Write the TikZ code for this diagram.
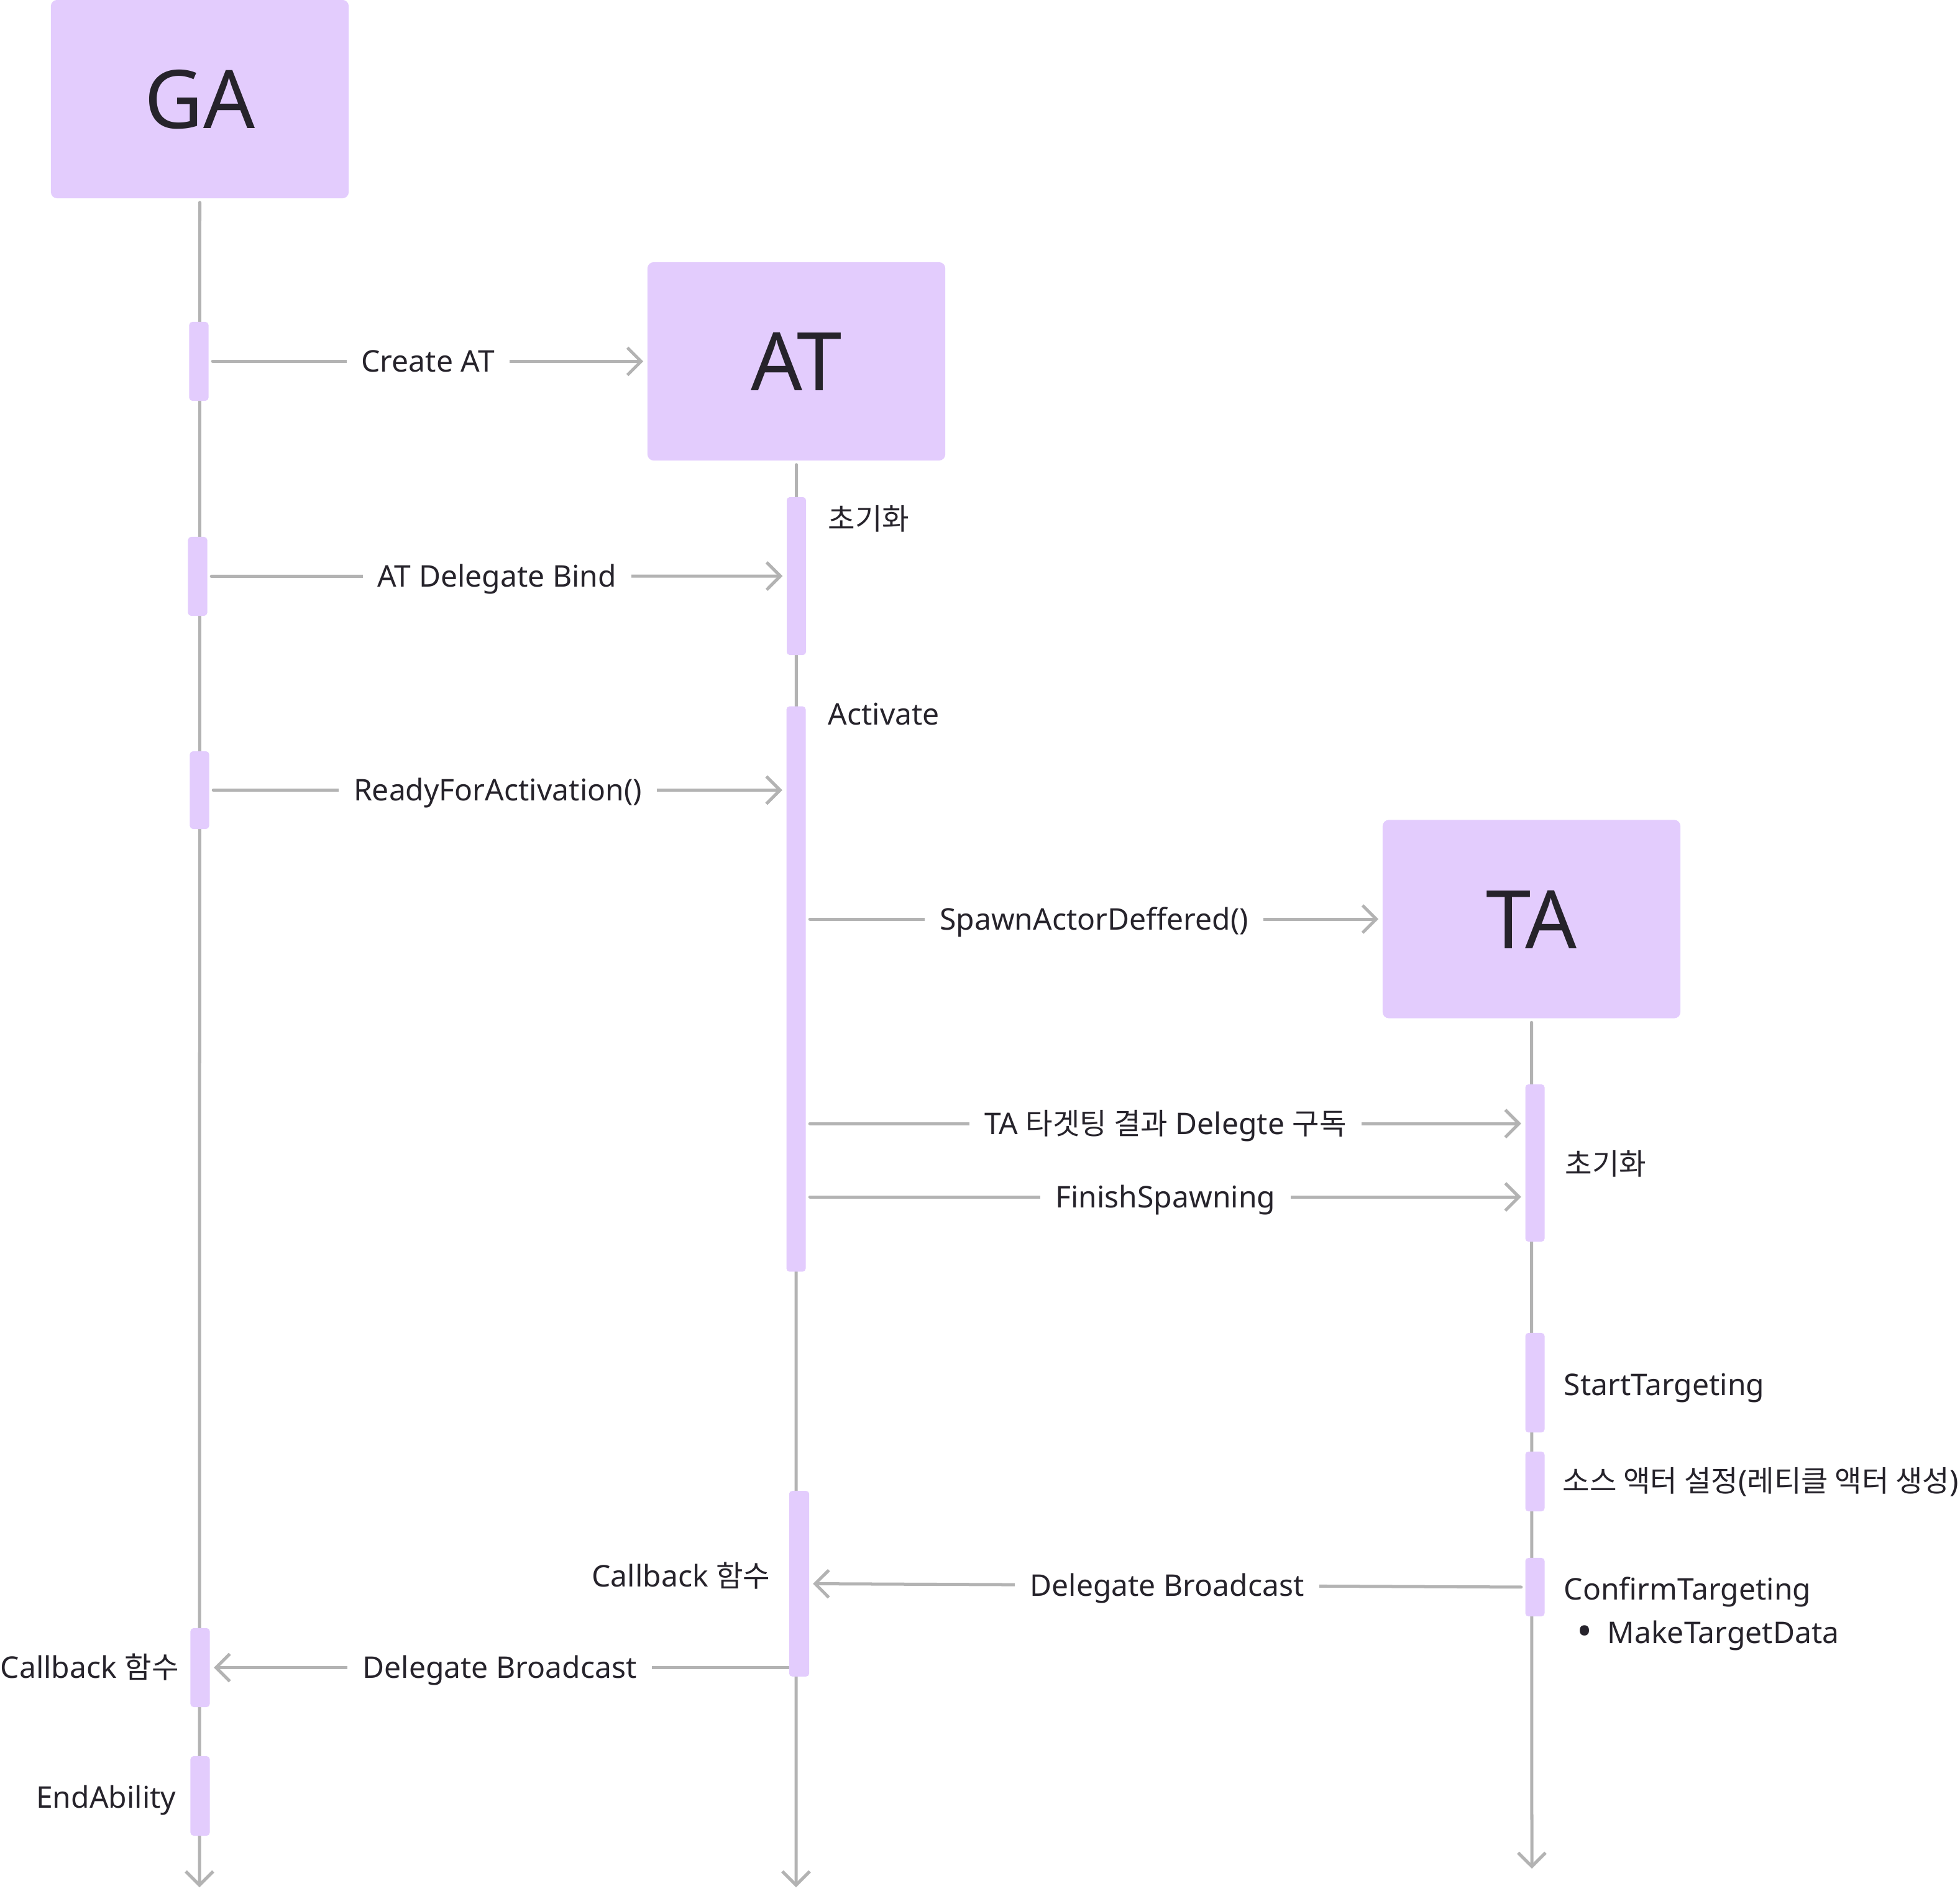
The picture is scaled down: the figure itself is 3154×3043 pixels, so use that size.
\documentclass[tikz,border=0pt]{standalone}
\usepackage{fontspec}
\setmainfont{Noto Sans}
\newfontfamily\kr[Scale=0.985]{Noto Sans CJK KR}
\usetikzlibrary{arrows.meta,calc}
\definecolor{boxfill}{HTML}{E3CCFD}
\definecolor{linegray}{HTML}{B3B3B3}
\definecolor{ink}{HTML}{26232B}
\begin{document}
\begin{tikzpicture}[x=0.01cm,y=-0.01cm,
  actor/.style={rectangle, rounded corners=0.1cm, fill=boxfill, minimum width=4.79cm, minimum height=3.19cm, inner sep=0, text=ink, text height=0.94cm, text depth=0cm, font=\fontsize{37}{40}\selectfont},
  lifeline/.style={draw=linegray, line width=0.05cm, line cap=round, -{Straight Barb[length=0.22cm,width=0.44cm]}},
  actbar/.style={rectangle, rounded corners=0.05cm, fill=boxfill, minimum width=0.31cm, inner sep=0},
  msg/.style={draw=linegray, line width=0.05cm, line cap=round, -{Straight Barb[length=0.22cm,width=0.44cm]}, shorten <=0.06cm, shorten >=0.06cm},
  lbl/.style={fill=white, text=ink, inner xsep=0.24cm, inner ysep=0.02cm, text height=0.34cm, text depth=0cm, font=\fontsize{13.66}{16}\selectfont},
  note/.style={text=ink, inner sep=0, font=\fontsize{13.66}{16}\selectfont}
]
\useasboundingbox (0,0) rectangle (3154,3043);

% actors
\node[actor] (GA) at (321.5,159.5) {GA};
\node[actor] (AT) at (1281.5,581.5) {AT};
\node[actor] (TA) at (2464.5,1479) {TA};

% lifeline ends
\coordinate (GAend) at (321,3037);
\coordinate (ATend) at (1281,3037);
\coordinate (TAend) at (2465,3007);

\draw[lifeline] ([yshift=-0.06cm]GA.south) -- (GAend);
\draw[lifeline] ([yshift=-0.06cm]AT.south) -- (ATend);
\draw[lifeline] ([yshift=-0.06cm]TA.south) -- (TAend);

% activation bar positions
\coordinate (gb1c) at (320,581.5);
\coordinate (gb2c) at (318,927.5);
\coordinate (gb3c) at (321,1271.5);
\coordinate (gb4c) at (322,2683.5);
\coordinate (gb5c) at (322,2890);
\coordinate (ab1c) at (1281.5,927);
\coordinate (ab2c) at (1281,1591.5);
\coordinate (ab3c) at (1286,2548.5);
\coordinate (tb1c) at (2470,1871.5);
\coordinate (tb2c) at (2470,2225);
\coordinate (tb3c) at (2470,2384);
\coordinate (tb4c) at (2470,2554);

\path
  node[actbar, minimum height=1.27cm] (gb1) at (gb1c) {}
  node[actbar, minimum height=1.27cm] (gb2) at (gb2c) {}
  node[actbar, minimum height=1.25cm] (gb3) at (gb3c) {}
  node[actbar, minimum height=1.27cm] (gb4) at (gb4c) {}
  node[actbar, minimum height=1.28cm] (gb5) at (gb5c) {}
  node[actbar, minimum height=2.54cm] (ab1) at (ab1c) {}
  node[actbar, minimum height=9.09cm] (ab2) at (ab2c) {}
  node[actbar, minimum height=2.97cm] (ab3) at (ab3c) {}
  node[actbar, minimum height=2.53cm] (tb1) at (tb1c) {}
  node[actbar, minimum height=1.60cm] (tb2) at (tb2c) {}
  node[actbar, minimum height=0.96cm] (tb3) at (tb3c) {}
  node[actbar, minimum height=0.94cm] (tb4) at (tb4c) {};

% message rows
\coordinate (y5) at (0,1808);
\coordinate (y6) at (0,1926);

\draw[msg] (gb1.east) -- node[lbl] (l1) {Create AT} (AT.west);
\draw[msg] (gb2.east) -- node[lbl] (l2) {AT Delegate Bind} (ab1.west);
\draw[msg] (gb3.east) -- node[lbl] (l3) {ReadyForActivation()} (ab2.west |- gb3.east);
\draw[msg] (ab2.east |- TA.west) -- node[lbl] (l4) {SpawnActorDeffered()} (TA.west);
\draw[msg] (ab2.east |- y5) -- node[lbl] (l5) {TA {\kr 타겟팅 결과} Delegte {\kr 구독}} (tb1.west |- y5);
\draw[msg] (ab2.east |- y6) -- node[lbl] (l6) {FinishSpawning} (tb1.west |- y6);
\draw[msg] (tb4.west) -- node[lbl] (l7) {Delegate Broadcast} (ab3.east);
\draw[msg, shorten <=-0.08cm] (ab3.west |- gb4.east) -- node[lbl] (l8) {Delegate Broadcast} (gb4.east);

% bar over the start of the last message line
\fill[boxfill, rounded corners=0.05cm] (ab3.south west) rectangle (ab3.north east);

% notes
\node[note, anchor=base west] (n1) at (1332,853) {\kr 초기화};
\node[note, anchor=base west] (n2) at (1332,1166) {Activate};
\node[note, anchor=base west] (n3) at (2518,1890) {\kr 초기화};
\node[note, anchor=base west] (n4) at (2516,2245) {StartTargeting};
\node[note, anchor=base west] (n5) at (2514,2400) {{\kr 소스 액터 설정}({\kr 레티클 액터 생성})};
\node[note, anchor=base west] (n6) at (2516,2574) {ConfirmTargeting};
\node[note] (n7b) at (2550,2632) {\fontsize{19}{16}\selectfont •};
\node[note, anchor=base west] (n7) at (2586,2644) {MakeTargetData};
\node[note, anchor=base east] (n8) at (1240,2553) {Callback {\kr 함수}};
\node[note, anchor=base west] (n9) at (0,2700) {Callback {\kr 함수}};
\node[note, anchor=base east] (n10) at (284,2909) {EndAbility};
\end{tikzpicture}
\end{document}
